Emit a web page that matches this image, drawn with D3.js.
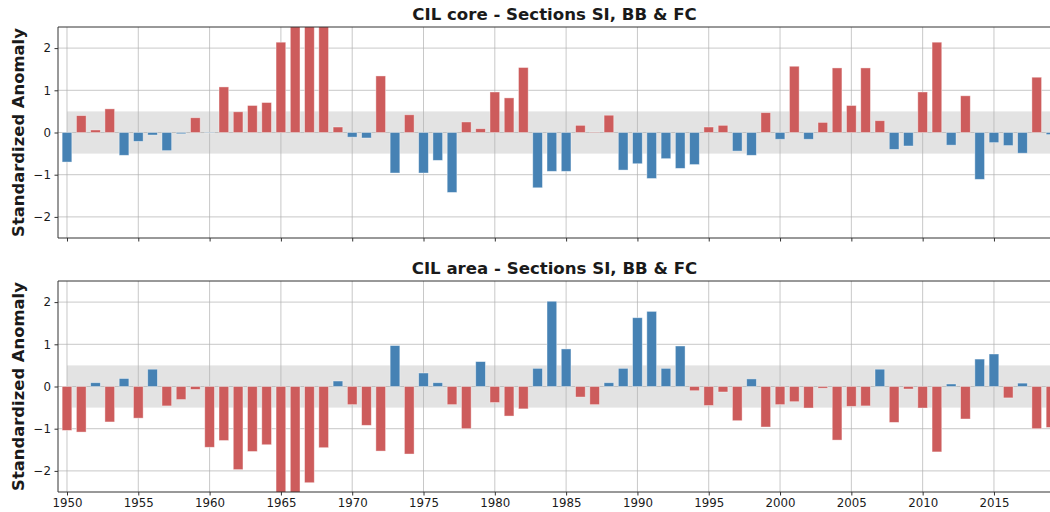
<!DOCTYPE html>
<html>
<head>
<meta charset="utf-8">
<script src="https://cdn.jsdelivr.net/npm/d3@7"></script>
<style>
  body { margin: 0; background: #fff; }
  svg text { font-family: "DejaVu Sans", sans-serif; fill: #1a1a1a; }
</style>
</head>
<body>
<div id="chart"></div>
<script>
// Years and standardized anomalies
var years = d3.range(1950, 2020);

var coreValues = [
  -0.70, 0.40, 0.06, 0.56, -0.54, -0.21, -0.06, -0.43, -0.03, 0.35,
  -0.01, 1.08, 0.49, 0.64, 0.71, 2.14, 2.90, 3.10, 2.70, 0.13,
  -0.11, -0.13, 1.34, -0.96, 0.42, -0.96, -0.66, -1.42, 0.25, 0.09,
  0.96, 0.82, 1.54, -1.31, -0.92, -0.92, 0.17, 0.01, 0.41, -0.89,
  -0.74, -1.09, -0.62, -0.85, -0.76, 0.13, 0.17, -0.44, -0.54, 0.47,
  -0.16, 1.57, -0.16, 0.24, 1.53, 0.64, 1.53, 0.28, -0.40, -0.32,
  0.96, 2.14, -0.30, 0.87, -1.11, -0.24, -0.31, -0.49, 1.31, -0.05
];

var areaValues = [
  -1.04, -1.08, 0.09, -0.84, 0.19, -0.75, 0.41, -0.46, -0.31, -0.07,
  -1.44, -1.28, -1.97, -1.54, -1.38, -2.60, -2.55, -2.28, -1.45, 0.13,
  -0.43, -0.92, -1.53, 0.97, -1.60, 0.32, 0.09, -0.43, -1.00, 0.59,
  -0.38, -0.70, -0.53, 0.43, 2.02, 0.89, -0.25, -0.43, 0.09, 0.43,
  1.63, 1.78, 0.43, 0.96, -0.10, -0.45, -0.13, -0.81, 0.18, -0.96,
  -0.43, -0.36, -0.51, -0.04, -1.27, -0.47, -0.46, 0.41, -0.85, -0.06,
  -0.51, -1.55, 0.06, -0.77, 0.65, 0.77, -0.27, 0.08, -1.00, -0.97
];

var xTicks = [1950, 1955, 1960, 1965, 1970, 1975, 1980, 1985, 1990, 1995, 2000, 2005, 2010, 2015];
var yTicks = [-2, -1, 0, 1, 2];

var panels = [
  {title: 'CIL core - Sections SI, BB & FC', values: coreValues, posColor: 'indianred', negColor: 'steelblue', top: 27, showX: false},
  {title: 'CIL area - Sections SI, BB & FC', values: areaValues, posColor: 'steelblue', negColor: 'indianred', top: 281, showX: true}
];

var width = 1050, height = 512;
var left = 58, right = 1051, panelH = 211;

var svg = d3.select('#chart').append('svg')
  .attr('width', width)
  .attr('height', height);

var xScale = d3.scaleLinear().domain([1949.37, 2019]).range([left, right]);
var barW = xScale(1950.68) - xScale(1950);

panels.forEach(function(p, i) {
  var yScale = d3.scaleLinear().domain([-2.5, 2.5]).range([p.top + panelH, p.top]);
  var data = years.map(function(y, k) { return {year: y, value: p.values[k]}; });

  var clipId = 'clip' + i;
  svg.append('clipPath').attr('id', clipId).append('rect')
    .attr('x', left).attr('y', p.top).attr('width', right - left).attr('height', panelH);

  var g = svg.append('g');
  var plot = g.append('g').attr('clip-path', `url(#${clipId})`);

  // +/- 0.5 band
  plot.append('rect')
    .attr('x', xScale(1950))
    .attr('y', yScale(0.5))
    .attr('width', right - xScale(1950))
    .attr('height', yScale(-0.5) - yScale(0.5))
    .attr('fill', '#e3e3e3');

  // grid
  plot.selectAll('line.vgrid').data(xTicks).enter().append('line')
    .attr('class', 'vgrid')
    .attr('x1', d => xScale(d)).attr('x2', d => xScale(d))
    .attr('y1', p.top).attr('y2', p.top + panelH)
    .attr('stroke', '#b0b0b0').attr('stroke-opacity', 0.7).attr('stroke-width', 1);
  plot.selectAll('line.hgrid').data(yTicks).enter().append('line')
    .attr('class', 'hgrid')
    .attr('x1', left).attr('x2', right)
    .attr('y1', d => yScale(d)).attr('y2', d => yScale(d))
    .attr('stroke', '#b0b0b0').attr('stroke-opacity', 0.7).attr('stroke-width', 1);

  // bars
  plot.selectAll('rect.bar').data(data).enter().append('rect')
    .attr('class', 'bar')
    .attr('x', d => xScale(d.year) - barW / 2)
    .attr('width', barW)
    .attr('y', d => yScale(Math.max(0, d.value)))
    .attr('height', d => Math.abs(yScale(d.value) - yScale(0)))
    .attr('fill', d => d.value >= 0 ? p.posColor : p.negColor)
    .attr('stroke', '#ffffff').attr('stroke-opacity', 0.5).attr('stroke-width', 0.8);

  // axes
  var yAxis = d3.axisLeft(yScale).tickValues(yTicks).tickSize(3.5).tickPadding(3.5)
    .tickFormat(d => d < 0 ? '\u2212' + Math.abs(d) : d);
  var gy = g.append('g').attr('transform', `translate(${left},0)`).call(yAxis);
  gy.select('.domain').remove();

  var xAxis = d3.axisBottom(xScale).tickValues(xTicks).tickSize(3.5).tickPadding(3.5)
    .tickFormat(p.showX ? d3.format('d') : '');
  var gx = g.append('g').attr('transform', `translate(0,${p.top + panelH})`).call(xAxis);
  gx.select('.domain').remove();

  [gx, gy].forEach(function(ax) {
    ax.selectAll('.tick line').attr('stroke', '#333');
    ax.selectAll('.tick text').style('font-size', '11.8px').attr('fill', '#1a1a1a');
  });

  // spines
  g.append('line').attr('x1', left).attr('x2', left).attr('y1', p.top).attr('y2', p.top + panelH)
    .attr('stroke', '#333').attr('stroke-width', 1);
  g.append('line').attr('x1', left).attr('x2', right).attr('y1', p.top).attr('y2', p.top)
    .attr('stroke', '#333').attr('stroke-width', 1);
  g.append('line').attr('x1', left).attr('x2', right).attr('y1', p.top + panelH).attr('y2', p.top + panelH)
    .attr('stroke', '#333').attr('stroke-width', 1);

  // title
  g.append('text')
    .attr('x', (left + right) / 2)
    .attr('y', p.top - 7)
    .attr('text-anchor', 'middle')
    .style('font-size', '16.6px')
    .style('font-weight', 'bold')
    .text(p.title);

  // y label
  g.append('text')
    .attr('transform', `translate(24,${p.top + panelH / 2}) rotate(-90)`)
    .attr('text-anchor', 'middle')
    .style('font-size', '16.4px')
    .style('font-weight', 'bold')
    .text('Standardized Anomaly');
});
</script>
</body>
</html>
